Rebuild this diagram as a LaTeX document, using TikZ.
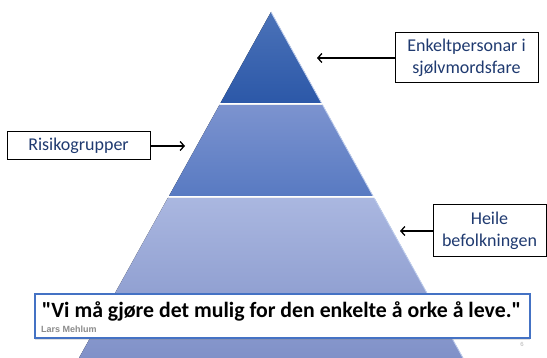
\documentclass[tikz,border=0pt]{standalone}
\usepackage{fontspec}
\setmainfont{Carlito}[Ligatures=TeXOff]
\newfontfamily\authorfont{Liberation Sans}
\usetikzlibrary{arrows.meta, positioning, shadows}
\definecolor{labelblue}{HTML}{1F3A70}
\definecolor{quoteblue}{HTML}{4472C4}
\definecolor{tieroneTop}{RGB}{75,114,184}
\definecolor{tieroneBot}{RGB}{44,88,168}
\definecolor{tiertwoTop}{RGB}{124,147,207}
\definecolor{tiertwoBot}{RGB}{88,122,194}
\definecolor{tierthreeTop}{RGB}{170,183,224}
\definecolor{tierthreeBot}{RGB}{128,145,200}
\definecolor{edgeblue}{RGB}{195,210,242}
\tikzset{
    labelbox/.style={rectangle, draw=black, line width=1pt, fill=white, text=labelblue, text centered, align=center, inner sep=0pt, font=\fontsize{18}{22}\selectfont},
    arrow/.style={line width=1.3pt, -{Straight Barb[length=4pt, width=9pt]}},
    quotebox/.style={rectangle, draw=quoteblue, line width=1.2pt, fill=white, inner sep=0pt, minimum width=495pt, minimum height=44pt, drop shadow={opacity=0.25, shadow xshift=0pt, shadow yshift=-2pt}},
    quotetext/.style={font=\fontsize{21.8}{24}\selectfont\bfseries, text=black, inner sep=0pt},
    edgelight/.style={line width=1pt, draw=white, opacity=0.6},
    rimlight/.style={line width=0.8pt, draw=edgeblue}
}

\begin{document}
\begin{tikzpicture}[x=1pt, y=1pt]
    \useasboundingbox (0,0) rectangle (547,-358);
    % Pyramid
    \fill[top color=tieroneTop, bottom color=tieroneBot]
        (271,-12) -- (321.5,-103) -- (220.5,-103) -- cycle;
    \fill[top color=tiertwoTop, bottom color=tiertwoBot]
        (219.4,-105) -- (322.6,-105) -- (373,-196) -- (169,-196) -- cycle;
    \fill[top color=tierthreeTop, bottom color=tierthreeBot]
        (167.8,-198) -- (374.2,-198) -- (463,-358) -- (79,-358) -- cycle;
    \draw[edgelight] (220,-104.5) -- (322,-104.5);
    \draw[edgelight] (168.5,-197.5) -- (373.5,-197.5);
    \draw[rimlight] (271,-12) -- (321.5,-103);
    \draw[rimlight] (322.6,-105) -- (373,-196);
    \draw[rimlight] (374.2,-198) -- (463,-358);

    % Labels
    \node (enkelt) [labelbox, minimum width=143pt, minimum height=50pt] at (466.5,-58) {Enkeltpersonar i\\sjølvmordsfare};
    \node (risiko) [labelbox, minimum width=143pt, minimum height=28pt] at (78.5,-146) {Risikogrupper};
    \node (heile) [labelbox, minimum width=113pt, minimum height=52pt] at (489.5,-231) {Heile\\befolkningen};
    \coordinate (toptip) at (317,-58);
    \coordinate (midtip) at (185,-146);
    \coordinate (lowtip) at (400,-231);

    % Arrows
    \draw [arrow] (enkelt.west) -- (toptip);
    \draw [arrow] (risiko.east) -- (midtip);
    \draw [arrow] (heile.west) -- (lowtip);

    % Quote
    \node (quotebox) [quotebox] at (282.5,-316) {};
    \node (quote) [quotetext, anchor=base] at (281.5,-318) {"Vi må gjøre det mulig for den enkelte å orke å leve."};
    \node (author) [anchor=base west, inner sep=0pt, text=gray!90, font=\authorfont\fontsize{9}{10}\selectfont\bfseries] at (41,-333) {Lars Mehlum};
    \node (page) [inner sep=0pt, text=gray!60, font=\authorfont\fontsize{6}{7}\selectfont] at (522,-344) {6};
\end{tikzpicture}
\end{document}
